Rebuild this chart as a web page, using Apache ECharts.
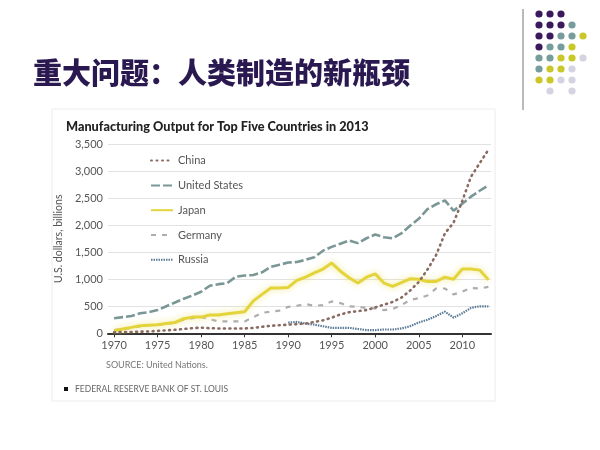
<!DOCTYPE html>
<html><head><meta charset="utf-8">
<script src="https://cdn.jsdelivr.net/npm/echarts@6/dist/echarts.min.js"></script>
<style>html,body{margin:0;padding:0;background:#fff}#c{width:600px;height:450px}</style>
</head><body><div id="c"></div>
<script>
const years = [];
for (let y = 1970; y <= 2013; y++) years.push(y);
const xTickLabels = [1970, 1975, 1980, 1985, 1990, 1995, 2000, 2005, 2010];
const china = [20,22,25,30,35,45,55,65,80,95,105,95,90,90,90,90,100,120,140,150,160,170,180,210,240,290,350,390,410,430,480,530,580,660,790,950,1180,1450,1850,2050,2450,2900,3150,3400];
const unitedStates = [280,300,320,370,390,430,500,570,640,700,770,880,910,930,1050,1070,1080,1130,1230,1270,1310,1320,1360,1410,1530,1600,1660,1720,1670,1760,1830,1780,1760,1850,1990,2120,2300,2390,2460,2270,2400,2530,2640,2740];
const japan = [50,80,110,140,150,160,180,200,270,300,300,340,340,360,380,400,600,720,840,840,850,980,1040,1120,1190,1300,1150,1030,930,1040,1100,930,870,940,1010,1000,960,960,1040,1000,1190,1190,1170,990];
const germany = [60,80,100,130,150,160,170,200,250,280,300,260,220,220,220,220,300,380,400,420,490,510,540,510,520,590,560,500,490,470,460,430,450,520,620,650,700,830,830,720,770,840,830,860];
const russia = [null,null,null,null,null,null,null,null,null,null,null,null,null,null,null,null,null,null,null,null,197,210,180,160,130,100,100,100,80,60,60,70,70,90,130,200,250,320,400,290,370,470,500,500];
const yTicks = [0,500,1000,1500,2000,2500,3000,3500];
const seriesNames = ['China','United States','Japan','Germany','Russia'];

const pair = arr => years.map((y,i) => [y, arr[i]]);

// decoration dot grid: rows of colour codes
const dotRows = ['PPP..','PPPT.','PPTTY','PTTY.','TTYYL','TYYL.','YYLL.','.L.L.'];
const dotColors = {P:'#3a1a5c', T:'#769c9c', Y:'#c9c828', L:'#d3d3e2'};
const dots = [];
dotRows.forEach((row, r) => {
  row.split('').forEach((ch, c) => {
    if (ch === '.') return;
    dots.push({type:'circle', shape:{cx:539 + c*11, cy:14 + r*11, r:3.6}, style:{fill:dotColors[ch]}});
  });
});

const chart = echarts.init(document.getElementById('c'), null, {renderer:'canvas'});
chart.setOption({
  animation:false,
  backgroundColor:'#fff',
  title:{text:'Manufacturing Output for Top Five Countries in 2013', left:61, top:115,
    textStyle:{fontFamily:'Lato', fontSize:12.7, fontWeight:900, color:'#222'}},
  graphic:[
    {type:'rect', shape:{x:52, y:109, width:443, height:292}, style:{fill:'none', stroke:'#ececec', lineWidth:1}, z:-1},
    {type:'line', shape:{x1:523, y1:9, x2:523, y2:110}, style:{stroke:'#777', lineWidth:1}},
    ...dots,
    {type:'text', left:33, top:58, style:{text:'重大问题：人类制造的新瓶颈', fontFamily:'Noto Sans CJK SC', fontWeight:900, fontSize:29, fill:'#2a1850'}},
    {type:'text', left:106, top:361, style:{text:'SOURCE: United Nations.', fontFamily:'Lato', fontSize:9, fill:'#777'}},
    {type:'rect', shape:{x:64, y:387, width:4, height:4}, style:{fill:'#111'}},
    {type:'text', left:75, top:384.5, style:{text:'FEDERAL RESERVE BANK OF ST. LOUIS', fontFamily:'Lato', fontSize:8.5, fill:'#666', letterSpacing:1}}
  ],
  legend:{orient:'vertical', left:145, top:150, itemWidth:22, itemHeight:14, itemGap:13.6,
    itemStyle:{opacity:0},
    data:seriesNames, textStyle:{fontFamily:'Lato', fontSize:11, color:'#555'}},
  grid:{left:108, right:109, top:144.3, bottom:116.7},
  xAxis:{type:'value', min:1969.3, max:2013.3,
    axisLine:{lineStyle:{color:'#333', width:2}},
    axisTick:{show:true, customValues:xTickLabels, length:4, lineStyle:{color:'#333'}},
    axisLabel:{customValues:xTickLabels, fontFamily:'Lato', fontSize:11, color:'#555', margin:7, formatter:v=>String(v)},
    splitLine:{show:false}},
  yAxis:{type:'value', min:0, max:3500, interval:500,
    name:'U.S. dollars, billions', nameLocation:'middle', nameGap:37, nameRotate:90,
    nameTextStyle:{fontFamily:'Lato', fontSize:10.5, color:'#555'},
    axisLine:{show:false}, axisTick:{show:false},
    axisLabel:{fontFamily:'Lato', fontSize:11, color:'#555', margin:5, formatter:v=>v.toLocaleString('en-US')},
    splitLine:{lineStyle:{color:'#e2e2e2', width:1}}},
  series:[
    {name:'China', type:'line', data:pair(china), symbol:'none', z:5,
      lineStyle:{color:'#8a6b62', width:2.6, type:[1,4.5], cap:'round'}, itemStyle:{color:'#8a6b62'}},
    {name:'United States', type:'line', data:pair(unitedStates), symbol:'none', z:4,
      lineStyle:{color:'#7a9795', width:2.6, type:[9,3]}, itemStyle:{color:'#7a9795'}},
    {name:'Japan', type:'line', data:pair(japan), symbol:'none', z:3,
      lineStyle:{color:'#e4d43c', width:3, shadowColor:'rgba(238,228,120,0.9)', shadowBlur:6}, itemStyle:{color:'#e4d43c'}},
    {name:'Germany', type:'line', data:pair(germany), symbol:'none', z:2,
      lineStyle:{color:'#adadad', width:2.2, type:[5,6]}, itemStyle:{color:'#adadad'}},
    {name:'Russia', type:'line', data:pair(russia), symbol:'none', z:4,
      lineStyle:{color:'#5b7b96', width:2.2, type:[1.5,1]}, itemStyle:{color:'#5b7b96'}}
  ]
});
</script></body></html>
